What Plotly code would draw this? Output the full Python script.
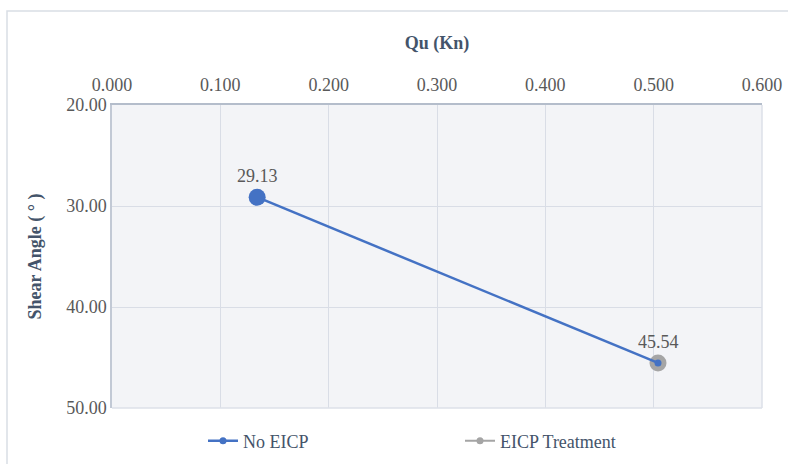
import plotly.graph_objects as go

# Data
qu_kn = [0.134, 0.504]
shear_angle = [29.13, 45.54]
series_names = ["No EICP", "EICP Treatment"]
x_ticks = [0.0, 0.1, 0.2, 0.3, 0.4, 0.5, 0.6]
y_ticks = [20, 30, 40, 50]

BLUE = "#4472C4"
GRAY = "#A5A5A5"
TXT = "#595959"
TITLE = "#44546A"
FONT = "Liberation Serif, Times New Roman, serif"

W, H = 788, 464
ML, MR, MT, MB = 112, 26, 105, 56
PW, PH = W - ML - MR, H - MT - MB

fig = go.Figure()

# Large gray marker for the treated sample
fig.add_trace(go.Scatter(
    x=[qu_kn[1]], y=[shear_angle[1]], mode="markers",
    marker=dict(size=17, color=GRAY), showlegend=False, hoverinfo="skip",
))
# Legend entry for the treated sample (small marker under the large one)
fig.add_trace(go.Scatter(
    x=[qu_kn[1]], y=[shear_angle[1]], mode="lines+markers", name=series_names[1],
    line=dict(color=GRAY, width=2), marker=dict(size=7, color=GRAY),
    legendrank=2,
))
# Connecting line between both samples
fig.add_trace(go.Scatter(
    x=qu_kn, y=shear_angle, mode="lines+markers", name=series_names[0],
    line=dict(color=BLUE, width=2.5), marker=dict(size=7, color=BLUE),
    legendrank=1,
))
# Large blue marker for the untreated sample
fig.add_trace(go.Scatter(
    x=[qu_kn[0]], y=[shear_angle[0]], mode="markers",
    marker=dict(size=17, color=BLUE), showlegend=False, hoverinfo="skip",
))

# Value labels above each point
annotations = [
    dict(x=xv, y=yv, xref="x", yref="y", text=f"{yv:.2f}", showarrow=False,
         yshift=21, font=dict(family=FONT, size=18, color=TXT))
    for xv, yv in zip(qu_kn, shear_angle)
]

fig.update_layout(
    width=W, height=H,
    margin=dict(l=ML, r=MR, t=MT, b=MB, autoexpand=False),
    paper_bgcolor="white", plot_bgcolor="#F3F4F7",
    font=dict(family=FONT, size=18, color=TXT),
    annotations=annotations,
    legend=dict(
        orientation="h", x=(203 - ML) / PW, xanchor="left",
        y=-(441 - (MT + PH)) / PH, yanchor="middle",
        entrywidth=212, entrywidthmode="pixels",
        font=dict(family=FONT, size=18, color=TITLE),
        bgcolor="rgba(0,0,0,0)",
    ),
    xaxis=dict(
        side="top", range=[0, 0.6], tickvals=x_ticks, tickformat=".3f",
        showgrid=True, gridcolor="#D9DDE6", gridwidth=1,
        zeroline=False, showline=True, linecolor="#B4BDCB", linewidth=2,
        mirror=False, ticks="", ticklabelstandoff=5, automargin=False,
        tickfont=dict(family=FONT, size=18, color=TXT),
        title=dict(text="<b>Qu (Kn)</b>", standoff=20,
                   font=dict(family=FONT, size=18, color=TITLE)),
    ),
    yaxis=dict(
        range=[50, 20], tickvals=y_ticks, tickformat=".2f",
        showgrid=True, gridcolor="#D9DDE6", gridwidth=1,
        zeroline=False, showline=True, linecolor="#C2C9D5", linewidth=1.5,
        ticks="", ticklabelstandoff=0, automargin=False,
        tickfont=dict(family=FONT, size=18, color=TXT),
        title=dict(text="<b>Shear Angle ( ° )</b>", standoff=20,
                   font=dict(family=FONT, size=18, color=TITLE)),
    ),
    shapes=[
        # light frame on the right and bottom of the plot area
        dict(type="line", xref="paper", yref="paper", x0=1, x1=1, y0=0, y1=1,
             line=dict(color="#DDE1E8", width=1.5)),
        dict(type="line", xref="paper", yref="paper", x0=0, x1=1, y0=0, y1=0,
             line=dict(color="#DDE1E8", width=1.5)),
        # chart outer border
        dict(type="rect", xref="paper", yref="paper",
             x0=-(ML - 7) / PW, x1=(W + 10 - ML) / PW,
             y0=-(H + 10 - MT - PH) / PH, y1=1 + (MT - 11) / PH,
             line=dict(color="#D9DEE5", width=1.5), layer="below"),
    ],
)

fig.write_html("out.html")
